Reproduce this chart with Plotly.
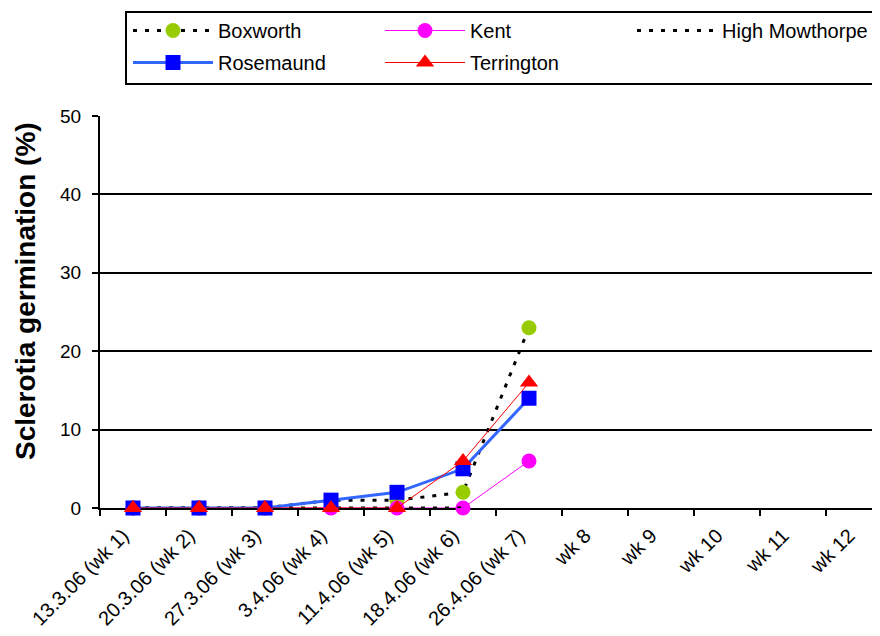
import plotly.graph_objects as go

categories = ["13.3.06 (wk 1)", "20.3.06 (wk 2)", "27.3.06 (wk 3)", "3.4.06 (wk 4)",
              "11.4.06 (wk 5)", "18.4.06 (wk 6)", "26.4.06 (wk 7)",
              "wk 8", "wk 9", "wk 10", "wk 11", "wk 12"]

boxworth = [0, 0, 0, 1, 1, 2, 23]
kent = [0, 0, 0, 0, 0, 0, 6]
high_mowthorpe = [0, 0, 0, 0, 0, 0]
rosemaund = [0, 0, 0, 1, 2, 5, 14]
terrington = [0, 0, 0, 0, 0, 6, 16]

FONT = "Liberation Sans, Arial, sans-serif"
OFF = 8                      # page body margin offset
W, H = 880, 636 - OFF
L, R, T, B = 100 - OFF, 0, 116 - OFF, 128
PW, PH = W - L - R, H - T - B


def cx(X):  # screen x -> container fraction
    return (X - OFF) / W


def cy(Y):  # screen y -> container fraction
    return 1 - (Y - OFF) / H


def px(X):  # screen x -> paper fraction
    return (X - OFF - L) / PW


def py(Y):  # screen y -> paper fraction
    return (H - B - (Y - OFF)) / PH


fig = go.Figure()

fig.add_trace(go.Scatter(
    x=categories[:len(boxworth)], y=boxworth, name="Boxworth", mode="lines+markers",
    line=dict(color="black", width=3, dash="4px,8px"),
    marker=dict(symbol="circle", size=15, color="#99CC00"), cliponaxis=False,
    legend="legend"))
fig.add_trace(go.Scatter(
    x=categories[:len(kent)], y=kent, name="Kent", mode="lines+markers",
    line=dict(color="#FF00FF", width=1),
    marker=dict(symbol="circle", size=15, color="#FF00FF"), cliponaxis=False,
    legend="legend"))
fig.add_trace(go.Scatter(
    x=categories[:len(high_mowthorpe)], y=high_mowthorpe, name="High Mowthorpe", mode="lines",
    line=dict(color="black", width=3, dash="4px,8px"), cliponaxis=False,
    legend="legend"))
fig.add_trace(go.Scatter(
    x=categories[:len(rosemaund)], y=rosemaund, name="Rosemaund", mode="lines+markers",
    line=dict(color="#3366FF", width=3),
    marker=dict(symbol="square", size=15, color="#0000FF"), cliponaxis=False,
    legend="legend2"))
fig.add_trace(go.Scatter(
    x=categories[:len(terrington)], y=terrington, name="Terrington", mode="lines+markers",
    line=dict(color="#FF0000", width=1),
    marker=dict(symbol="triangle-up", size=16, color="#FF0000"), cliponaxis=False,
    legend="legend2"))

legend_common = dict(
    orientation="h", xref="container", yref="container",
    xanchor="left", yanchor="top", borderwidth=0, bgcolor="rgba(0,0,0,0)",
    font=dict(family=FONT, size=20, color="black"),
    itemwidth=80, entrywidth=157, traceorder="normal",
)

fig.update_layout(
    width=W, height=H,
    margin=dict(l=L, r=R, t=T, b=B, autoexpand=False),
    paper_bgcolor="white", plot_bgcolor="white",
    font=dict(family=FONT, color="black", size=19),
    legend=dict(x=cx(128), y=cy(11), **legend_common),
    legend2=dict(x=cx(128), y=cy(43), **legend_common),
    showlegend=True,
    shapes=[dict(
        type="rect", xref="paper", yref="paper",
        x0=px(126), x1=px(920), y0=py(84), y1=py(12),
        line=dict(color="black", width=2), fillcolor="rgba(0,0,0,0)", layer="below")],
    annotations=[dict(
        text="<b>Sclerotia germination (%)</b>", textangle=-90,
        xref="paper", yref="paper", x=px(25), y=py(291),
        xanchor="center", yanchor="middle", showarrow=False,
        font=dict(family=FONT, size=28, color="black"))],
)

fig.update_xaxes(
    type="category", categoryorder="array", categoryarray=categories,
    tickvals=categories, range=[-0.5, -0.5 + PW / 66],
    tickson="boundaries", ticks="outside", ticklen=6, tickwidth=2, tickcolor="black",
    showline=True, linecolor="black", linewidth=2, showgrid=False,
    tickangle=-45, tickfont=dict(family=FONT, size=20, color="black"),
    ticklabelstandoff=6, ticklabelshift=-10, automargin=False,
    layer="below traces",
)
fig.update_yaxes(
    range=[0, 50], dtick=10, tick0=0,
    showgrid=True, gridcolor="black", gridwidth=2, zeroline=False,
    showline=True, linecolor="black", linewidth=2,
    ticks="outside", ticklen=6, tickwidth=2, tickcolor="black",
    tickfont=dict(family=FONT, size=19, color="black"),
    ticklabelstandoff=7, automargin=False,
    layer="below traces",
)

fig.write_html("out.html")
